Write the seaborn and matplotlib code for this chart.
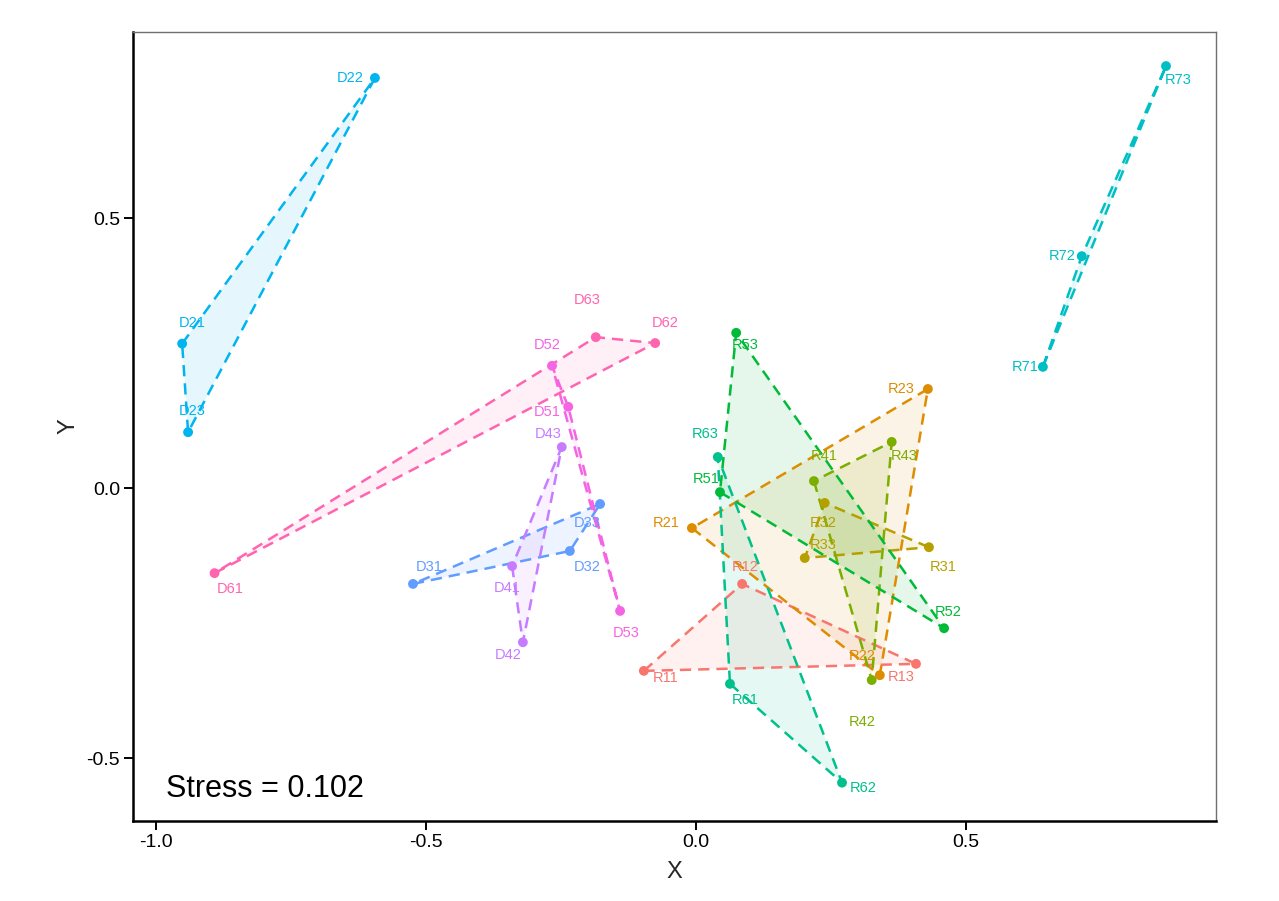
import numpy as np
import pandas as pd
import matplotlib
matplotlib.use("Agg")
import matplotlib.pyplot as plt
import seaborn as sns
from matplotlib.patches import Polygon

# ---- data ----
sample_names = ["R11", "R12", "R13", "R21", "R22", "R23", "R31", "R32", "R33",
                "R41", "R42", "R43", "R51", "R52", "R53", "R61", "R62", "R63",
                "R71", "R72", "R73", "D21", "D22", "D23", "D31", "D32", "D33",
                "D41", "D42", "D43", "D51", "D52", "D53", "D61", "D62", "D63"]
groups = ["R1", "R1", "R1", "R2", "R2", "R2", "R3", "R3", "R3",
          "R4", "R4", "R4", "R5", "R5", "R5", "R6", "R6", "R6",
          "R7", "R7", "R7", "D2", "D2", "D2", "D3", "D3", "D3",
          "D4", "D4", "D4", "D5", "D5", "D5", "D6", "D6", "D6"]
nmds_x = [-0.096, 0.086, 0.408, -0.007, 0.341, 0.430, 0.432, 0.239, 0.202,
          0.219, 0.326, 0.363, 0.045, 0.460, 0.075, 0.0635, 0.271, 0.041,
          0.643, 0.715, 0.871, -0.951, -0.594, -0.940, -0.5235, -0.233, -0.177,
          -0.340, -0.320, -0.248, -0.236, -0.266, -0.140, -0.891, -0.075, -0.185]
nmds_y = [-0.338, -0.177, -0.325, -0.0735, -0.346, 0.184, -0.109, -0.027, -0.129,
          0.0135, -0.355, 0.086, -0.007, -0.259, 0.288, -0.362, -0.545, 0.058,
          0.225, 0.430, 0.782, 0.268, 0.760, 0.104, -0.177, -0.116, -0.029,
          -0.144, -0.285, 0.0765, 0.151, 0.227, -0.227, -0.157, 0.269, 0.280]
group_order = ["R1", "R2", "R3", "R4", "R5", "R6", "R7", "D2", "D3", "D4", "D5", "D6"]
group_colors = ["#F8766D", "#DE8C00", "#B79F00", "#7CAE00", "#00BA38", "#00C08B",
                "#00BFC4", "#00B4F0", "#619CFF", "#C77CFF", "#F564E3", "#FF64B0"]
stress_value = 0.102

# label offsets in pixels (dx, dy upward) - placement only
label_offsets = {
    "D21": (10, 21), "D22": (-25, 0), "D23": (4, 21), "D31": (16, 17), "D32": (17, -16),
    "D33": (-13, -19), "D41": (-5, -22), "D42": (-15, -13), "D43": (-14, 13),
    "D51": (-21, -5), "D52": (-5, 21), "D53": (6, -22), "D61": (16, -16),
    "D62": (10, 20), "D63": (-9, 37), "R11": (22, -7), "R12": (3, 17), "R13": (-15, -13),
    "R21": (-26, 5), "R22": (-18, 19), "R23": (-27, 0), "R31": (14, -20), "R32": (-2, -20),
    "R33": (18, 13), "R41": (10, 25), "R42": (-10, -42), "R43": (12, -14),
    "R51": (-14, 13), "R52": (4, 16), "R53": (9, -12), "R61": (15, -16),
    "R62": (21, -5), "R63": (-13, 23), "R71": (-18, 0), "R72": (-20, 0), "R73": (12, -14),
}

df = pd.DataFrame({"name": sample_names, "group": groups, "X": nmds_x, "Y": nmds_y})

sns.set_theme(style="white")
plt.rcParams["font.family"] = ["Liberation Sans", "DejaVu Sans"]

palette = dict(zip(group_order, group_colors))

fig = plt.figure(figsize=(12.79, 9.01), dpi=100)
ax = fig.add_axes([0.1042, 0.0888, 0.8463, 0.876])

# polygons per group
for g in group_order:
    sub = df[df["group"] == g]
    pts = np.column_stack([sub["X"].values, sub["Y"].values])
    col = palette[g]
    ax.add_patch(Polygon(pts, closed=True, facecolor=col, alpha=0.10,
                         edgecolor="none", zorder=1))
    ax.add_patch(Polygon(pts, closed=True, facecolor="none", edgecolor=col,
                         linewidth=1.8, linestyle=(0, (4.5, 2.8)), zorder=2))

sns.scatterplot(data=df, x="X", y="Y", hue="group", hue_order=group_order,
                palette=palette, s=50, edgecolor="none", legend=False, ax=ax, zorder=3)

for _, r in df.iterrows():
    dx, dy = label_offsets[r["name"]]
    ax.annotate(r["name"], (r["X"], r["Y"]), xytext=(dx, dy), textcoords="offset pixels",
                ha="center", va="center", fontsize=10.5, color=palette[r["group"]], zorder=4)

ax.text(0.030, 0.030, f"Stress = {stress_value}", transform=ax.transAxes,
        ha="left", va="baseline", fontsize=22, color="black")

ax.set_xlim(-1.0415, 0.963)
ax.set_ylim(-0.616, 0.8456)
ax.set_xticks([-1.0, -0.5, 0.0, 0.5])
ax.set_yticks([-0.5, 0.0, 0.5])
ax.set_xticklabels(["-1.0", "-0.5", "0.0", "0.5"])
ax.set_yticklabels(["-0.5", "0.0", "0.5"])
ax.set_xlabel("X", fontsize=17, labelpad=7)
ax.set_ylabel("Y", fontsize=17, labelpad=5)
ax.tick_params(axis="both", which="major", direction="out", length=6.5, width=1.4,
               labelsize=14, colors="black", left=True, bottom=True, pad=3)
for side in ["left", "bottom"]:
    ax.spines[side].set_color("black")
    ax.spines[side].set_linewidth(1.8)
for side in ["top", "right"]:
    ax.spines[side].set_color("#707070")
    ax.spines[side].set_linewidth(1.0)
ax.grid(False)
ax.set_facecolor("white")

fig.savefig("out.png", dpi=100, facecolor="white")
